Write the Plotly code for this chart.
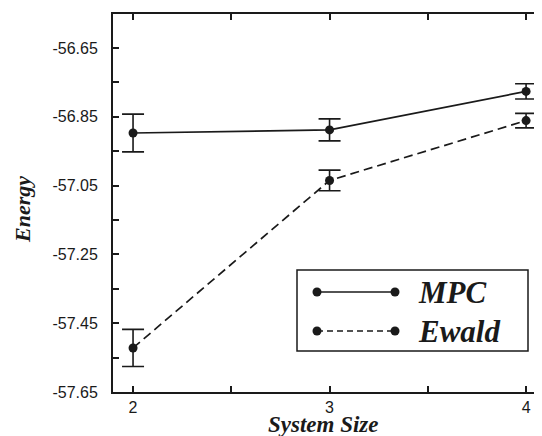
import plotly.graph_objects as go

# Data
system_size = [2, 3, 4]
mpc_energy = [-56.897, -56.888, -56.776]
mpc_err = [0.055, 0.032, 0.022]
ewald_energy = [-57.522, -57.035, -56.861]
ewald_err = [0.054, 0.030, 0.021]
series_names = ["MPC", "Ewald"]
y_tickvals = [-57.65, -57.45, -57.25, -57.05, -56.85, -56.65]
y_ticktext = ["-57.65", "-57.45", "-57.25", "-57.05", "-56.85", "-56.65"]
x_tickvals = [2, 3, 4]
x_title = "System Size"
y_title = "Energy"

INK = "#1a1a1a"
OFF = 8  # page body margin
W, H = 542 - OFF, 436 - OFF
L, R, T, B = 113 - OFF, 0, 14 - OFF, 436 - 392
SERIF = "Liberation Serif, Times New Roman, serif"

fig = go.Figure()

def add_series(y, err, dash):
    fig.add_trace(go.Scatter(
        x=system_size, y=y, mode="lines+markers",
        line=dict(color=INK, width=1.7, dash=dash),
        marker=dict(color=INK, size=9),
        error_y=dict(type="data", array=err, visible=True, color=INK, thickness=1.6, width=11),
        showlegend=False, cliponaxis=False,
    ))

add_series(mpc_energy, mpc_err, "solid")
add_series(ewald_energy, ewald_err, "9px,5px")

axis_common = dict(
    showline=True, linecolor=INK, linewidth=2, mirror="ticks",
    ticks="inside", ticklen=6, tickwidth=1.5, tickcolor=INK,
    showgrid=False, zeroline=False, automargin=False,
    tickfont=dict(family="Liberation Sans, Arial, sans-serif", size=16, color=INK),
)

fig.update_xaxes(
    range=[1.898, 4.081], tickvals=x_tickvals, ticktext=[str(v) for v in x_tickvals],
    minor=dict(dtick=0.5, tick0=2, ticks="inside", ticklen=6, tickwidth=1.5, tickcolor=INK),
    ticklabelstandoff=0,
    **axis_common,
)
fig.update_yaxes(
    range=[-57.65, -56.551], tickvals=y_tickvals, ticktext=y_ticktext,
    minor=dict(dtick=0.1, tick0=-57.65, ticks="inside", ticklen=6, tickwidth=1.5, tickcolor=INK),
    ticklabelstandoff=10,
    **axis_common,
)

pw, ph = W - L - R, H - T - B
def px(xp):  # reference-page pixel -> paper
    return (xp - OFF - L) / pw
def py(yp):
    return (H - B - (yp - OFF)) / ph

# Axis titles
fig.add_annotation(x=px(323), y=py(425), xref="paper", yref="paper",
                   text=f"<b><i>{x_title}</i></b>", showarrow=False,
                   xanchor="center", yanchor="middle",
                   font=dict(family=SERIF, size=23, color=INK))
fig.add_annotation(x=px(22), y=py(210), xref="paper", yref="paper",
                   text=f"<b><i>{y_title}</i></b>", showarrow=False, textangle=-90,
                   xanchor="center", yanchor="middle",
                   font=dict(family=SERIF, size=22, color=INK))

# Manual legend (box, sample lines, dots, labels)
shapes = [dict(type="rect", xref="paper", yref="paper",
               x0=px(297), x1=px(528), y0=py(351), y1=py(270),
               line=dict(color=INK, width=1.5), fillcolor="white", layer="above")]
for name, ypix, dash in [(series_names[0], 292, "solid"), (series_names[1], 331, "6px,4px")]:
    shapes.append(dict(type="line", xref="paper", yref="paper",
                       x0=px(317), x1=px(395), y0=py(ypix), y1=py(ypix),
                       line=dict(color=INK, width=1.7, dash=dash), layer="above"))
    for xc in (317, 395):
        shapes.append(dict(type="circle", xref="paper", yref="paper",
                           xsizemode="pixel", ysizemode="pixel",
                           xanchor=px(xc), yanchor=py(ypix),
                           x0=-4.5, x1=4.5, y0=-4.5, y1=4.5,
                           fillcolor=INK, line=dict(color=INK, width=0), layer="above"))
    fig.add_annotation(x=px(416), y=py(ypix), xref="paper", yref="paper",
                       text=f"<b><i>{name}</i></b>", showarrow=False,
                       xanchor="left", yanchor="middle",
                       font=dict(family=SERIF, size=31, color=INK))

fig.update_layout(
    width=W, height=H,
    margin=dict(l=L, r=R, t=T, b=B, autoexpand=False),
    paper_bgcolor="white", plot_bgcolor="white",
    shapes=shapes,
)

fig.write_html("out.html")
